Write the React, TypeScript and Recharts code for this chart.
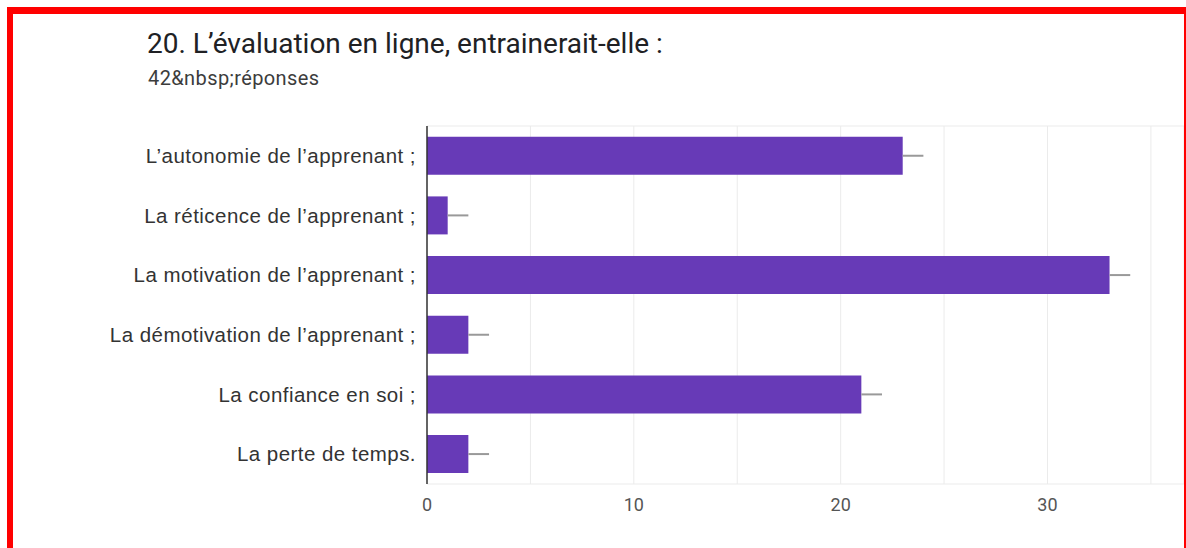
import { Bar, BarChart, CartesianGrid, ErrorBar, XAxis, YAxis } from "recharts";

const categories = [
  "L\u2019autonomie de l\u2019apprenant ;",
  "La réticence de l\u2019apprenant ;",
  "La motivation de l\u2019apprenant ;",
  "La démotivation de l\u2019apprenant ;",
  "La confiance en soi ;",
  "La perte de temps.",
];
const counts = [23, 1, 33, 2, 21, 2];
const spread = [1, 1, 1, 1, 1, 1];
const xTicks = [0, 5, 10, 15, 20, 25, 30, 35];

const data = categories.map((name, i) => ({
  name,
  value: counts[i],
  err: [0, spread[i]],
}));

const PURPLE = "#673ab7";
const FONT = "Roboto, Arial, sans-serif";
const LABEL_FONT = "'Liberation Sans', Arial, sans-serif";

export default function App() {
  return (
    <div
      style={{
        position: "fixed",
        left: 0,
        top: 0,
        width: 1186,
        height: 548,
        background: "#fff",
        overflow: "hidden",
        fontFamily: FONT,
      }}
    >
      {/* cadre rouge de la capture */}
      <div style={{ position: "absolute", left: 7, top: 7, width: 1179, height: 7, background: "#ff0000" }} />
      <div style={{ position: "absolute", left: 7, top: 7, width: 6, height: 541, background: "#ff0000" }} />
      <div style={{ position: "absolute", left: 1184, top: 14, width: 2, height: 534, background: "#ff0000" }} />

      <div style={{ position: "absolute", left: 147, top: 27, fontSize: 28, color: "#202124", lineHeight: "34px" }}>
        20. L’évaluation en ligne, entrainerait-elle :
      </div>
      <div
        style={{
          position: "absolute",
          left: 148,
          top: 66,
          fontSize: 20,
          letterSpacing: 0.4,
          color: "#3c3c3c",
          lineHeight: "24px",
        }}
      >
        42&amp;nbsp;réponses
      </div>

      <div style={{ position: "absolute", left: 0, top: 0 }}>
        <BarChart
          width={1184}
          height={548}
          data={data}
          layout="vertical"
          margin={{ top: 126, right: 0, bottom: 0, left: 0 }}
          barCategoryGap="18%"
        >
          <CartesianGrid stroke="#ebebeb" horizontalPoints={[126, 484]} />
          <XAxis
            type="number"
            domain={[0, 36.6]}
            ticks={xTicks}
            tickFormatter={(v: number) => (v % 10 === 0 ? String(v) : "")}
            axisLine={false}
            tickLine={false}
            tickSize={0}
            tickMargin={14}
            height={64}
            tick={{ fill: "#555", fontSize: 18, fontFamily: FONT }}
          />
          <YAxis
            type="category"
            dataKey="name"
            width={427}
            axisLine={{ stroke: "#333", strokeWidth: 1.5 }}
            tickLine={false}
            tickSize={0}
            tickMargin={11}
            tick={{ fill: "#333", fontSize: 20.5, letterSpacing: 0.45, fontFamily: LABEL_FONT }}
          />
          <Bar dataKey="value" fill={PURPLE} isAnimationActive={false}>
            <ErrorBar dataKey="err" direction="x" width={0} stroke="#999" strokeWidth={2} />
          </Bar>
        </BarChart>
      </div>
    </div>
  );
}
